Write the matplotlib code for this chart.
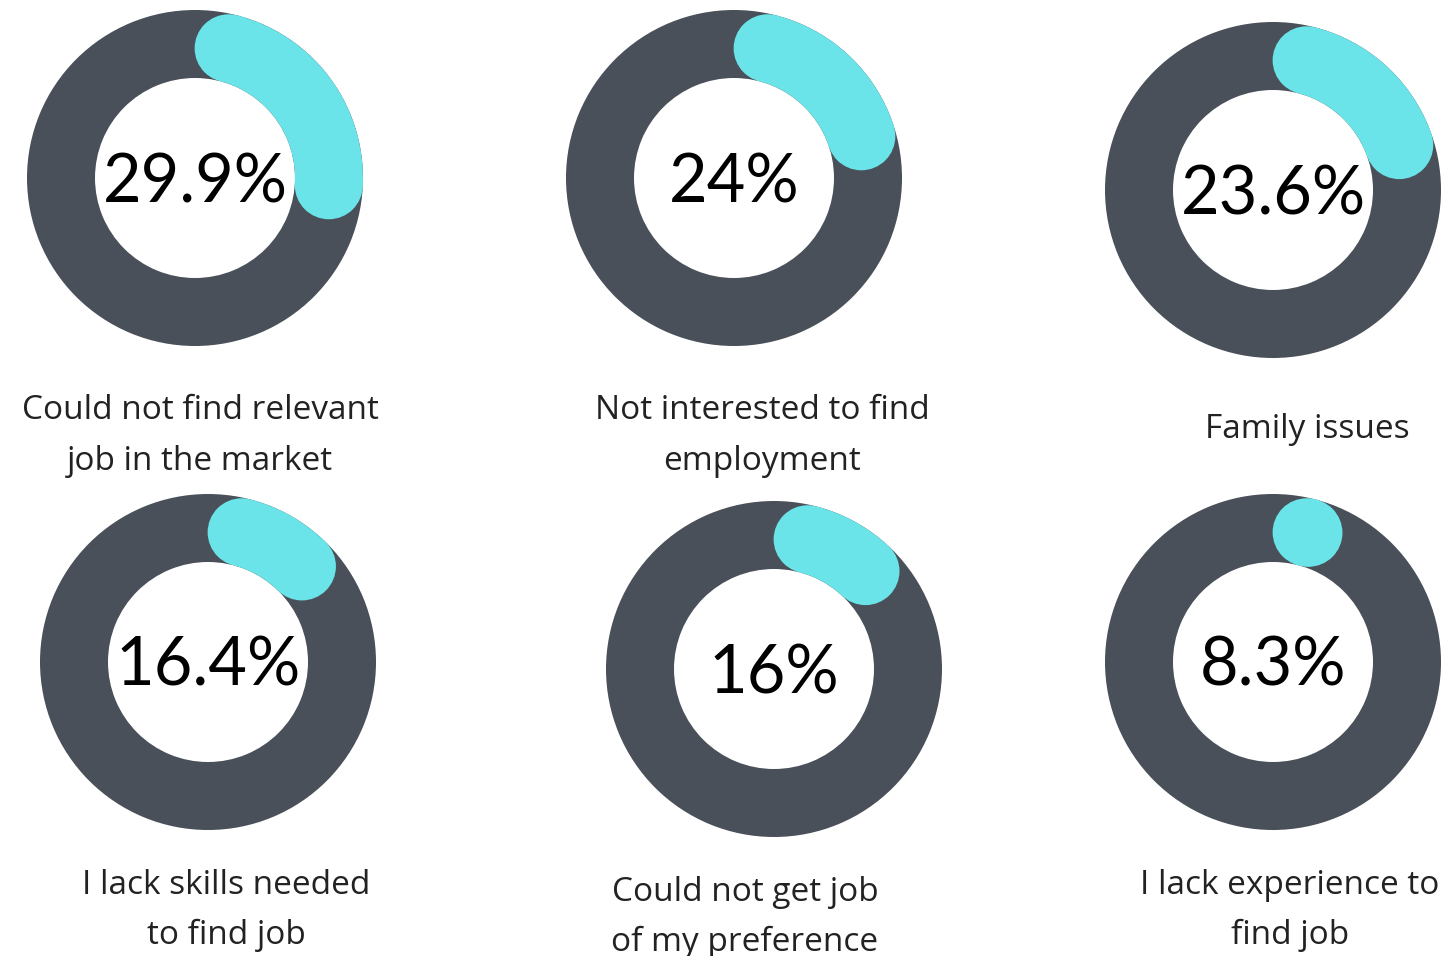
import matplotlib
matplotlib.use("Agg")
import matplotlib.pyplot as plt
from matplotlib.patches import Wedge, Circle
import numpy as np

# ── data ──────────────────────────────────────────────────────────────────────
values = [29.9, 24, 23.6, 16.4, 16, 8.3]
labels = [
    ["Could not find relevant", "job in the market"],
    ["Not interested to find", "employment"],
    ["Family issues"],
    ["I lack skills needed", "to find job"],
    ["Could not get job", "of my preference"],
    ["I lack experience to", "find job"],
]

# ── layout (pixel coordinates, y down) ───────────────────────────────────────
centers = [(195, 178), (734, 178), (1273, 190), (208, 662), (774, 669), (1273, 662)]
label_x = [200, 762, 1307, 226, 745, 1290]
label_base = [[419, 470], [419, 470], [438], [894, 944], [901, 951], [894, 944]]

R_OUT, R_IN = 168, 100
RING = R_OUT - R_IN
R_MID = (R_OUT + R_IN) / 2
DARK = "#4a5059"
CYAN = "#6ae4e8"

W, H = 1449, 956
fig = plt.figure(figsize=(W / 100, H / 100), dpi=100)
ax = fig.add_axes([0, 0, 1, 1])
ax.set_xlim(0, W)
ax.set_ylim(H, 0)
ax.set_aspect("equal")
ax.axis("off")


def pt(cx, cy, ang_deg, r):
    # angle measured clockwise from 12 o'clock, y axis points down
    a = np.radians(ang_deg)
    return cx + r * np.sin(a), cy - r * np.cos(a)


for val, (cx, cy), lines, lx, lys in zip(values, centers, labels, label_x, label_base):
    ax.add_patch(Wedge((cx, cy), R_OUT, 0, 360, width=RING, color=DARK, lw=0))

    # progress arc with round caps, caps kept inside the value span
    span = val / 100 * 360
    cap = np.degrees((RING / 2) / R_MID)
    a0, a1 = cap, max(span - cap, cap)
    # y is inverted, so data-ccw angles run clockwise on screen
    ax.add_patch(Wedge((cx, cy), R_OUT, a0 - 90, a1 - 90, width=RING, color=CYAN, lw=0))
    for a in (a0, a1):
        ax.add_patch(Circle(pt(cx, cy, a, R_MID), RING / 2, color=CYAN, lw=0))

    ax.text(cx, cy + 24, f"{val:g}%", ha="center", va="baseline",
            fontsize=48, family="Lato", color="black")

    for line, ly in zip(lines, lys):
        ax.text(lx, ly, line, ha="center", va="baseline",
                fontsize=24, family="Open Sans", color="#222222")

fig.savefig("out.png", dpi=100, facecolor="white")
